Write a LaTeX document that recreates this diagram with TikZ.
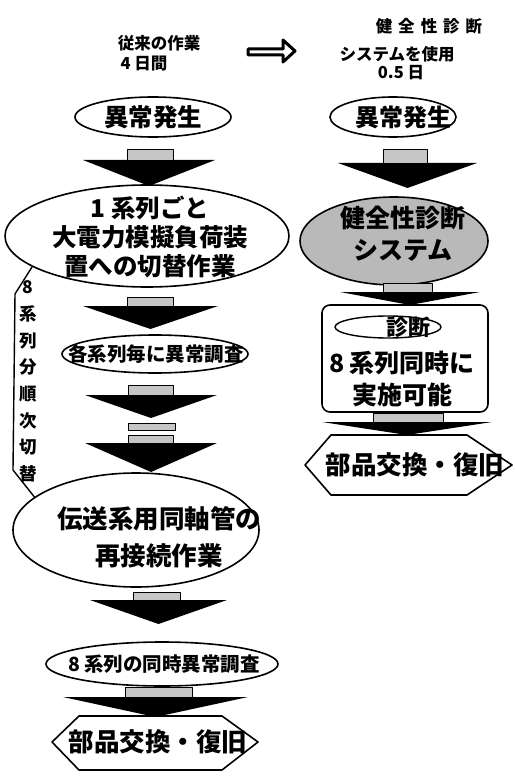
\documentclass[tikz,border=0pt]{standalone}
\usepackage{fontspec}
\setmainfont{Noto Sans CJK JP}
\usetikzlibrary{shapes.geometric}
\newcommand\blkarrow[7]{%
  \fill[black] (#5,#4) -- (#6,#4) -- ({(#5+#6)/2},#7) -- cycle;
  \draw[fill=gray!45, line width=0.8pt] (#1,#3) rectangle (#2,#4);
}
\begin{document}
\begin{tikzpicture}[x=1pt,y=-1pt,line join=round,
  ell/.style={draw, ellipse, line width=1.6pt, inner sep=0pt},
  txt/.style={inner sep=0pt, align=center, font=\bfseries},
  hexa/.style={draw, line width=1.6pt, fill=white}]
\useasboundingbox[fill=white] (0,0) rectangle (514,783);

% titles
\node[txt, font=\bfseries\fontsize{16.5}{18}\selectfont] (tl1) at (159,43) {従来の作業};
\node[txt, font=\bfseries\fontsize{16.5}{18}\selectfont] (tl2) at (144,64) {4 日間};
\node[txt, font=\bfseries\fontsize{16.5}{18}\selectfont] (tr1) at (429,26) {健\hspace{6pt}全\hspace{6pt}性\hspace{6pt}診\hspace{6pt}断};
\node[txt, font=\bfseries\fontsize{16.5}{18}\selectfont] (tr2) at (397,54) {システムを使用};
\node[txt, font=\bfseries\fontsize{16.5}{18}\selectfont] (tr3) at (401,73) {0.5 日};

% hollow arrow
\coordinate (ha) at (248,52);
\coordinate (hb) at (295,51);
\draw[line width=3pt, fill=white] (ha) ++(0,-3) -- (283,49) -- (283,40) -- (hb) -- (283,62) -- (283,55) -- (248,55) -- cycle;

% ---------- left column ----------
\node[ell, minimum width=156pt, minimum height=40pt] (l1) at (153,117) {};
\node[txt, font=\bfseries\fontsize{24.5}{26}\selectfont] (l1t) at (l1) {異常発生};
\blkarrow{127}{173}{149}{160}{83}{215}{186}

\node[ell, minimum width=284pt, minimum height=102pt] (l2) at (147,236) {};
\node[txt, font=\bfseries\fontsize{24.5}{29}\selectfont] (l2t) at (150,237) {1 系列ごと\\大電力模擬負荷装\\置への切替作業};
\blkarrow{127}{173}{297}{306}{83}{218}{329}

\node[ell, minimum width=186pt, minimum height=38pt] (l3) at (155,354) {};
\node[txt, font=\bfseries\fontsize{19.5}{20}\selectfont] (l3t) at (156,354) {各系列毎に異常調査};
\blkarrow{128}{173}{385}{395}{85}{217}{418}
\draw[fill=gray!45, line width=0.8pt] (128,423) rectangle (175,430);
\blkarrow{128}{173}{435}{443}{85}{217}{472}

\node[ell, minimum width=246pt, minimum height=114pt] (l4) at (136,530) {};
\node[txt, font=\bfseries\fontsize{25.5}{37}\selectfont] (l4t) at (159,537) {伝送系用同軸管の\\再接続作業};
\blkarrow{133}{180}{592}{600}{90}{227}{624}

\node[ell, minimum width=232pt, minimum height=44pt] (l5) at (162,664) {};
\node[txt, font=\bfseries\fontsize{19.5}{20}\selectfont] (l5t) at (164,664) {8 系列の同時異常調査};
\blkarrow{125}{192}{687}{697}{63}{248}{717}

\draw[hexa] (52,742) -- (79,716) -- (222,716) -- (258,742) -- (222,770) -- (79,770) -- cycle;
\node[txt, font=\bfseries\fontsize{25.5}{26}\selectfont] (l6t) at (158,742) {部品交換・復旧};

% side bracket
\draw[line width=1.4pt] (l2.195.5) -- (15,294) -- (13,470) -- (l4.162.7);
\node[txt, font=\bfseries\fontsize{17.5}{26.7}\selectfont] (side) at (28,381.5) {8\\系\\列\\分\\順\\次\\切\\替};

% ---------- right column ----------
\node[ell, minimum width=126pt, minimum height=40pt] (r1) at (393,117) {};
\node[txt, font=\bfseries\fontsize{24}{26}\selectfont] (r1t) at (403,117) {異常発生};
\blkarrow{383}{427}{149}{163}{338}{477}{188}

\node[ell, fill=gray!55, minimum width=188pt, minimum height=88pt] (r2) at (394,241) {};
\node[txt, font=\bfseries\fontsize{25}{32}\selectfont] (r2t) at (403,234) {健全性診断\\システム};
\blkarrow{383}{432}{283}{292}{340}{480}{305}

\draw[line width=1.6pt, rounded corners=8pt] (322,305) rectangle (488,412);
\node[draw, ellipse, line width=1.4pt, inner sep=0pt, minimum width=106pt, minimum height=22pt] (r3e) at (388,327) {};
\node[txt, font=\bfseries\fontsize{22}{24}\selectfont] (r3t) at (408,327) {診断};
\node[txt, font=\bfseries\fontsize{25}{32}\selectfont] (r3b) at (402,379) {8 系列同時に\\実施可能};
\blkarrow{373}{443}{413}{422}{322}{492}{435}

\draw[hexa] (305,465) -- (331,435) -- (467,435) -- (512,465) -- (467,495) -- (331,495) -- cycle;
\node[txt, font=\bfseries\fontsize{25.5}{26}\selectfont] (r4t) at (415,465) {部品交換・復旧};
\end{tikzpicture}
\end{document}
